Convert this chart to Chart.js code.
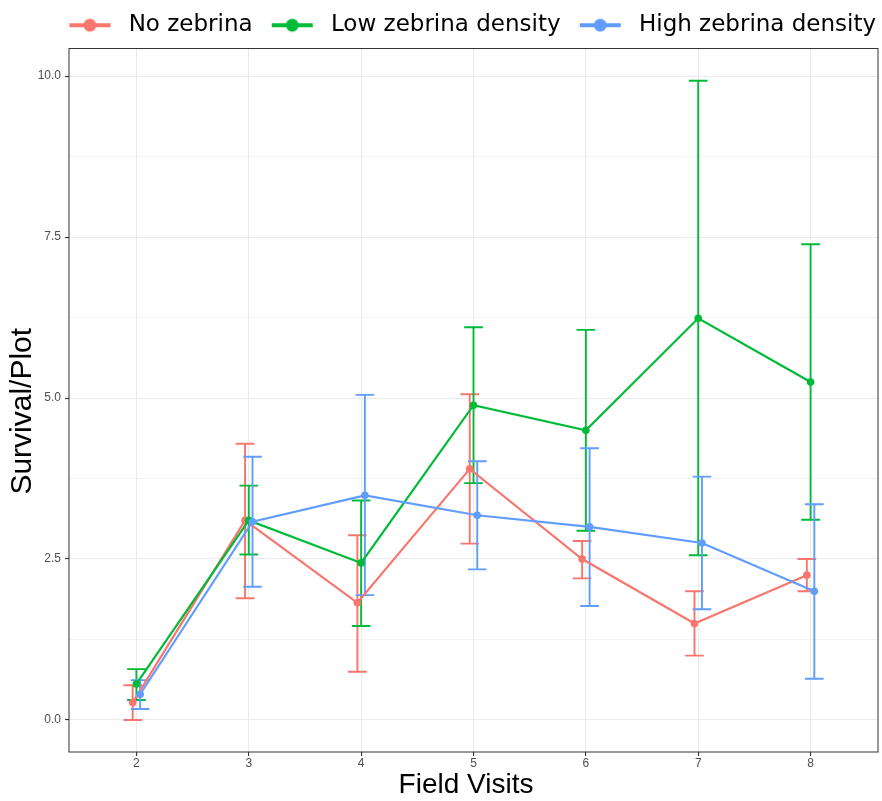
<!DOCTYPE html>
<html>
<head>
<meta charset="utf-8">
<script src="https://cdn.jsdelivr.net/npm/chart.js@4.4.1/dist/chart.umd.min.js"></script>
<style>
html, body { margin: 0; padding: 0; background: #ffffff; }
canvas { display: block; }
</style>
</head>
<body>
<canvas id="c" width="882" height="801"></canvas>
<script>
// ---------------- data ----------------
const visits = [2, 3, 4, 5, 6, 7, 8];
const seriesNames = ['No zebrina', 'Low zebrina density', 'High zebrina density'];

const noMean    = [0.27, 3.10, 1.82, 3.90, 2.50, 1.50, 2.25];
const noLower   = [0.00, 1.89, 0.75, 2.74, 2.20, 1.00, 2.00];
const noUpper   = [0.54, 4.29, 2.87, 5.06, 2.78, 2.00, 2.50];

const lowMean   = [0.56, 3.10, 2.44, 4.89, 4.50, 6.24, 5.25];
const lowLower  = [0.31, 2.57, 1.46, 3.68, 2.94, 2.56, 3.11];
const lowUpper  = [0.79, 3.64, 3.41, 6.10, 6.06, 9.93, 7.39];

const highMean  = [0.40, 3.08, 3.49, 3.18, 3.00, 2.75, 2.00];
const highLower = [0.17, 2.07, 1.94, 2.34, 1.77, 1.72, 0.64];
const highUpper = [0.62, 4.09, 5.05, 4.02, 4.22, 3.78, 3.35];

const xTickValues = [2, 3, 4, 5, 6, 7, 8];
const yMajorTicks = [0, 2.5, 5, 7.5, 10];
const yMinorTicks = [1.25, 3.75, 6.25, 8.75];

// ---------------- styles ----------------
const colors = ['#F8766D', '#00BA38', '#619CFF'];
const dodge = [-0.0333, 0, 0.0333];
const capHalf = 0.083;
const means = [noMean, lowMean, highMean];
const lowers = [noLower, lowLower, highLower];
const uppers = [noUpper, lowUpper, highUpper];

function makeKey(color) {
  const c = document.createElement('canvas');
  c.width = 65; c.height = 16;
  const g = c.getContext('2d');
  g.strokeStyle = color; g.lineWidth = 4; g.lineCap = 'butt';
  g.beginPath(); g.moveTo(17, 8); g.lineTo(58, 8); g.stroke();
  g.fillStyle = color;
  g.beginPath(); g.arc(37.5, 8, 6.5, 0, Math.PI * 2); g.fill();
  return c;
}
const keyImages = colors.map(makeKey);

const datasets = seriesNames.map((name, i) => ({
  label: name,
  data: visits.map((v, j) => ({ x: v + dodge[i], y: means[i][j] })),
  borderColor: colors[i],
  backgroundColor: colors[i],
  pointBackgroundColor: colors[i],
  pointBorderWidth: 0,
  pointRadius: 3.8,
  borderWidth: 2.2,
  tension: 0,
  order: 3 - i,
  xAxisID: 'x',
  yAxisID: 'y'
}));

const errorBarPlugin = {
  id: 'errorBars',
  beforeDatasetsDraw(chart) {
    const ctx = chart.ctx;
    const xs = chart.scales.x, ys = chart.scales.y;
    ctx.save();
    ctx.lineWidth = 1.9;
    ctx.lineCap = 'butt';
    for (let i = 0; i < seriesNames.length; i++) {
      ctx.strokeStyle = colors[i];
      for (let j = 0; j < visits.length; j++) {
        const xv = visits[j] + dodge[i];
        const px = xs.getPixelForValue(xv);
        const pl = xs.getPixelForValue(xv - capHalf);
        const pr = xs.getPixelForValue(xv + capHalf);
        const yLo = ys.getPixelForValue(lowers[i][j]);
        const yHi = ys.getPixelForValue(uppers[i][j]);
        ctx.beginPath();
        ctx.moveTo(px, yLo); ctx.lineTo(px, yHi);
        ctx.moveTo(pl, yLo); ctx.lineTo(pr, yLo);
        ctx.moveTo(pl, yHi); ctx.lineTo(pr, yHi);
        ctx.stroke();
      }
    }
    ctx.restore();
  }
};

const panelBorderPlugin = {
  id: 'panelBorder',
  afterDraw(chart) {
    const a = chart.chartArea, ctx = chart.ctx;
    ctx.save();
    ctx.strokeStyle = '#333333';
    ctx.lineWidth = 1;
    ctx.strokeRect(a.left, a.top, a.right - a.left, a.bottom - a.top);
    ctx.restore();
  }
};

// shift axis titles slightly, as in the reference
const titleOffsetPlugin = {
  id: 'titleOffset',
  afterLayout(chart) {
    const shifts = { x: [-7.5, 0], y: [0, 11] };
    Object.keys(shifts).forEach((id) => {
      const s = chart.scales[id];
      if (!s || s._titleShifted) return;
      const orig = s.drawTitle;
      s.drawTitle = function () {
        this.ctx.save();
        this.ctx.translate(shifts[id][0], shifts[id][1]);
        orig.apply(this, arguments);
        this.ctx.restore();
      };
      s._titleShifted = true;
    });
  }
};

const isMajorY = (v) => yMajorTicks.includes(v);

new Chart(document.getElementById('c'), {
  type: 'line',
  data: { datasets },
  plugins: [errorBarPlugin, panelBorderPlugin, titleOffsetPlugin],
  options: {
    responsive: false,
    animation: false,
    events: [],
    devicePixelRatio: 1,
    layout: { padding: { top: 11.3, right: 3.5, left: 0, bottom: 0 } },
    plugins: {
      tooltip: { enabled: false },
      legend: {
        display: true,
        position: 'top',
        align: 'end',
        labels: {
          usePointStyle: true,
          pointStyleWidth: 64.5,
          padding: 2.4,
          color: '#000000',
          font: { family: 'DejaVu Sans', size: 23 },
          sort: (a, b) => a.datasetIndex - b.datasetIndex,
          generateLabels(chart) {
            return chart.data.datasets.map((ds, i) => ({
              text: ds.label,
              datasetIndex: i,
              pointStyle: keyImages[i],
              fillStyle: colors[i],
              strokeStyle: colors[i],
              lineWidth: 0,
              fontColor: '#000000',
              hidden: false
            }));
          }
        }
      }
    },
    scales: {
      x: {
        type: 'linear',
        position: 'bottom',
        min: 1.4,
        max: 8.6,
        afterBuildTicks(scale) { scale.ticks = xTickValues.map(v => ({ value: v })); },
        afterFit(scale) { scale.height = 49; },
        border: { display: false },
        grid: {
          color: '#EBEBEB',
          lineWidth: 1.1,
          drawTicks: true,
          tickLength: 4,
          tickColor: '#333333',
          tickWidth: 1.1
        },
        ticks: {
          autoSkip: false,
          maxRotation: 0,
          padding: 1,
          color: '#4D4D4D',
          font: { family: 'Liberation Sans', size: 12, lineHeight: 1.1 },
          callback: (v) => String(v)
        },
        title: {
          display: true,
          text: 'Field Visits',
          color: '#000000',
          font: { family: 'Liberation Sans', size: 28, lineHeight: 1 },
          padding: { top: 0, bottom: 1.7 }
        }
      },
      xTop: {
        type: 'linear',
        position: 'top',
        display: true,
        grid: { display: false, drawTicks: false },
        border: { display: false },
        ticks: { display: false },
        title: { display: false },
        afterFit(scale) { scale.height = 1.8; }
      },
      y: {
        type: 'linear',
        position: 'left',
        min: -0.497,
        max: 10.43,
        afterBuildTicks(scale) {
          scale.ticks = [...yMajorTicks, ...yMinorTicks].sort((a, b) => a - b).map(v => ({ value: v }));
        },
        afterFit(scale) { scale.width = 69; },
        border: { display: false },
        grid: {
          color: '#EBEBEB',
          lineWidth: (c) => (c.tick && isMajorY(c.tick.value)) ? 1.1 : 0.55,
          drawTicks: true,
          tickLength: 4,
          tickColor: (c) => (c.tick && isMajorY(c.tick.value)) ? '#333333' : 'rgba(0,0,0,0)',
          tickWidth: 1.1
        },
        ticks: {
          autoSkip: false,
          padding: 4,
          color: '#4D4D4D',
          font: { family: 'Liberation Sans', size: 12 },
          callback: (v) => isMajorY(v) ? v.toFixed(1) : ''
        },
        title: {
          display: true,
          text: 'Survival/Plot',
          color: '#000000',
          font: { family: 'Liberation Sans', size: 30, lineHeight: 1 },
          padding: { top: 8, bottom: 0 }
        }
      }
    }
  }
});
</script>
</body>
</html>
